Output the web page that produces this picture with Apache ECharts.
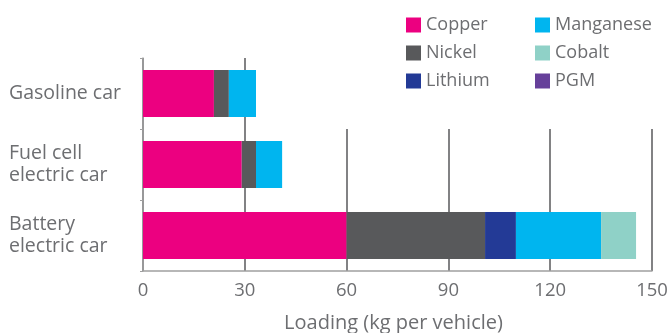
<!DOCTYPE html>
<html>
<head>
<meta charset="utf-8">
<script src="https://cdn.jsdelivr.net/npm/echarts@6/dist/echarts.min.js"></script>
<style>html,body{margin:0;padding:0;background:#fff}#c{width:668px;height:333px}</style>
</head>
<body>
<div id="c"></div>
<script>
const categories = ['Gasoline car', 'Fuel cell\nelectric car', 'Battery\nelectric car'];
const copper = [20.9, 29.1, 60];
const nickel = [4.4, 4.2, 40.8];
const lithium = [0, 0, 9.1];
const manganese = [8.0, 7.7, 25.1];
const cobalt = [0, 0, 10.3];
const pgm = [0, 0, 0];
const xTicks = [0, 30, 60, 90, 120, 150];

const FONT = 'Open Sans';
const TXT = '#6d6e71';
const seriesDefs = [
  ['Copper', copper, '#ec0080'],
  ['Nickel', nickel, '#58595b'],
  ['Lithium', lithium, '#233a96'],
  ['Manganese', manganese, '#00b5ef'],
  ['Cobalt', cobalt, '#8fd1c7'],
  ['PGM', pgm, '#66409a']
];
const chart = echarts.init(document.getElementById('c'));
const legendBase = {
  orient: 'vertical', top: 16, itemWidth: 15, itemHeight: 15, itemGap: 10,
  padding: 0, icon: 'rect', z: 20, selectedMode: false,
  textStyle: { fontFamily: FONT, fontSize: 18, color: TXT }
};
chart.setOption({
  animation: false,
  textStyle: { fontFamily: FONT },
  graphic: [{ type: 'rect', left: 300, top: 0, shape: { width: 368, height: 129 }, style: { fill: '#fff' }, z: 5 }],
  legend: [
    Object.assign({}, legendBase, { left: 406, data: ['Copper', 'Nickel', 'Lithium'] }),
    Object.assign({}, legendBase, { left: 535, data: ['Manganese', 'Cobalt', 'PGM'] })
  ],
  grid: { left: 143, right: 16, top: 58, bottom: 62, containLabel: false, outerBoundsMode: 'none' },
  xAxis: {
    type: 'value', min: xTicks[0], max: xTicks[xTicks.length - 1], interval: 30,
    name: 'Loading (kg per vehicle)', nameLocation: 'middle', nameGap: 42,
    nameTextStyle: { fontFamily: FONT, fontSize: 20, color: TXT, padding: [0, 8, 0, 0] },
    axisLine: { show: true, lineStyle: { color: '#a0a0a0', width: 1.5 } },
    axisTick: { show: false },
    axisLabel: { fontFamily: FONT, fontSize: 18.5, color: TXT, margin: 10 },
    splitLine: { show: true, lineStyle: { color: '#58595b', width: 1.5 } }
  },
  yAxis: {
    type: 'category', data: categories, inverse: true,
    axisLine: { show: true, lineStyle: { color: '#a0a0a0', width: 1.5 } },
    axisTick: { show: true, length: 3, lineStyle: { color: '#a0a0a0' } },
    axisLabel: { fontFamily: FONT, fontSize: 19.5, color: TXT, align: 'left', margin: 134, lineHeight: 22 },
    splitLine: { show: false }
  },
  series: seriesDefs.map(([name, data, color]) => ({
    name, type: 'bar', stack: 'total', data, barWidth: 47,
    itemStyle: { color }, emphasis: { disabled: true }, z: 10
  }))
});
</script>
</body>
</html>
